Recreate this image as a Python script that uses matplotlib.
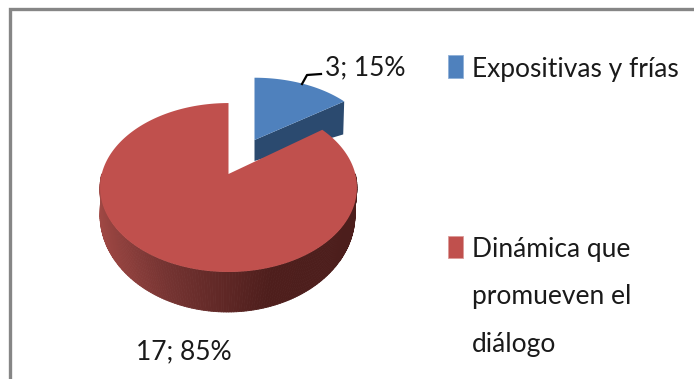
import numpy as np
import matplotlib
matplotlib.use("Agg")
import matplotlib.pyplot as plt
from matplotlib.patches import Polygon, Rectangle
from matplotlib.collections import PolyCollection

categories = ["Expositivas y frías", "Dinámica que\npromueven el\ndiálogo"]
values = [3, 17]
data_labels = ["3; 15%", "17; 85%"]
colors = ["#4F81BD", "#C0504D"]

total = sum(values)
blue_sweep = 2 * np.pi * values[0] / total


def project(theta, cx, cy, a, b, k):
    u, v = np.sin(theta), np.cos(theta)
    d = 1 + k * v
    return cx + a * u / d, cy - b * v / d


RED = dict(cx=228.5, cy=174, a=126.8, b=82.3, k=0.16)
BLUE = dict(cx=254.5, cy=140, a=120, b=71, k=0.14)

fig = plt.figure(figsize=(6.94, 3.79), dpi=100)
ax = fig.add_axes([0, 0, 1, 1])
ax.set_xlim(0, 694)
ax.set_ylim(379, 0)
ax.axis("off")

# chart frame (top and left edges only are inside the picture)
ax.plot([10, 10, 694], [379, 8.8, 8.8], color="#868686", lw=2.4,
        solid_joinstyle="miter", zorder=1)

# blue slice
t_blue = np.linspace(0, blue_sweep, 60)
bx, by = project(t_blue, **BLUE)
tipx, tipy = bx[-1], by[-1]
ax.add_patch(Polygon([(BLUE["cx"], BLUE["cy"]), (tipx, tipy), (tipx - 1, tipy + 33),
                      (BLUE["cx"], BLUE["cy"] + 21)], closed=True, fc="#2B4A6F", ec="none", zorder=2))
ax.add_patch(Polygon(np.r_[[(BLUE["cx"], BLUE["cy"])], np.c_[bx, by]], closed=True,
                     fc=colors[0], ec="none", zorder=3))

# red slice: shaded side wall
t_red = np.linspace(np.pi / 2, 3 * np.pi / 2, 160)
ux, uy = project(t_red, **RED)
lx = 227.5 + 127.5 * np.sin(t_red)
ly = 215 - 97 * np.cos(t_red)
quads = [[(ux[i], uy[i]), (ux[i + 1], uy[i + 1]), (lx[i + 1], ly[i + 1]), (lx[i], ly[i])]
         for i in range(len(t_red) - 1)]
stops_x = [99, 170, 265, 356]
stops = np.array([[160, 72, 68], [118, 52, 50], [78, 30, 28], [76, 30, 28]]) / 255
mid = (lx[:-1] + lx[1:]) / 2
side = np.c_[[np.interp(mid, stops_x, stops[:, c]) for c in range(3)]].T
ax.add_collection(PolyCollection(quads, facecolors=side, edgecolors=side, linewidths=0.6, zorder=4))

# red slice: top face
t_top = np.linspace(blue_sweep, 2 * np.pi, 240)
rx, ry = project(t_top, **RED)
ax.add_patch(Polygon(np.r_[[(RED["cx"], RED["cy"])], np.c_[rx, ry]], closed=True,
                     fc=colors[1], ec="none", zorder=5))

# data labels
ax.plot([302, 307, 321], [84, 75, 74], color="black", lw=1.6, zorder=6)
FONT = ["Lato", "DejaVu Sans"]
FS = 19
TXT = "#1a1a1a"
ax.text(325, 75, data_labels[0], family=FONT, fontsize=FS, color=TXT, va="baseline", zorder=7)
ax.text(136, 359, data_labels[1], family=FONT, fontsize=FS, color=TXT, va="baseline", zorder=7)

# legend
ax.add_patch(Rectangle((448, 55), 15, 23, fc=colors[0], ec="#8FB0D8", lw=0.6, zorder=6))
ax.text(472, 77, categories[0], family=FONT, fontsize=FS, color=TXT, va="baseline", zorder=7)
ax.add_patch(Rectangle((448, 236), 15, 22, fc=colors[1], ec="#DC9A98", lw=0.6, zorder=6))
for line, base in zip(categories[1].split("\n"), [257, 304, 352]):
    ax.text(472, base, line, family=FONT, fontsize=FS, color=TXT, va="baseline", zorder=7)

fig.savefig("out.png", dpi=100, facecolor="white")
